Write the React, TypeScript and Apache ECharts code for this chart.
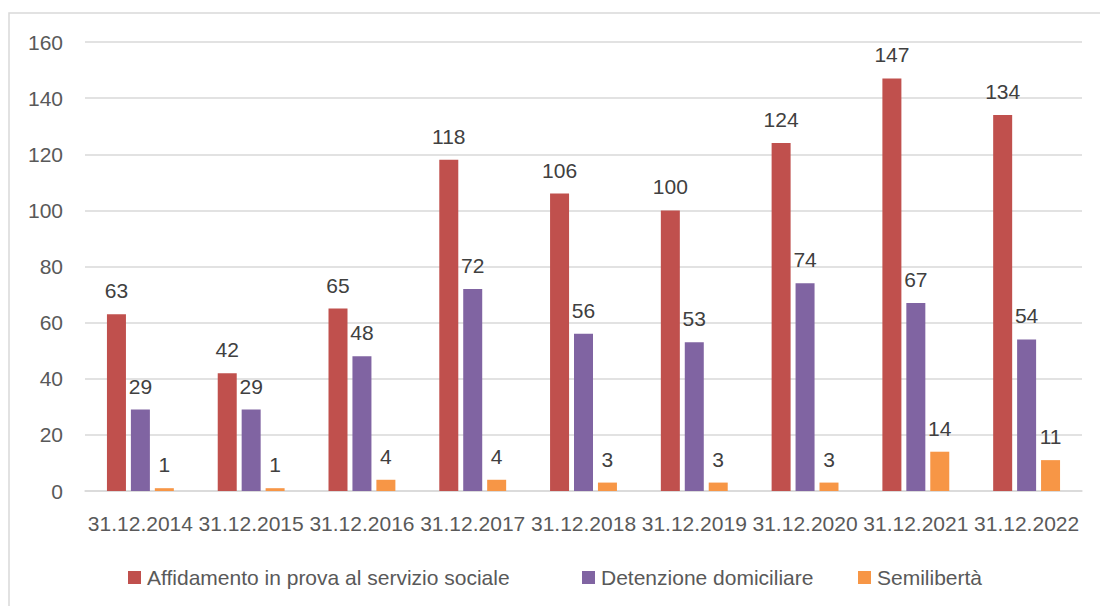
import React, { useEffect, useRef } from "react";
import * as echarts from "echarts";

const categories = [
  "31.12.2014", "31.12.2015", "31.12.2016", "31.12.2017", "31.12.2018",
  "31.12.2019", "31.12.2020", "31.12.2021", "31.12.2022",
];
const affidamento = [63, 42, 65, 118, 106, 100, 124, 147, 134];
const detenzione = [29, 29, 48, 72, 56, 53, 74, 67, 54];
const semiliberta = [1, 1, 4, 4, 3, 3, 3, 14, 11];
const seriesNames = [
  "Affidamento in prova al servizio sociale",
  "Detenzione domiciliare",
  "Semilibertà",
];
const colors = ["#C0504D", "#8064A2", "#F79646"];

const FONT = "Liberation Sans";

export default function App() {
  const ref = useRef<HTMLDivElement>(null);
  useEffect(() => {
    const chart = echarts.init(ref.current!, null, { renderer: "svg" });
    const mk = (name: string, data: number[], color: string) => ({
      name,
      type: "bar",
      data,
      barWidth: 19,
      barGap: "26%",
      itemStyle: { color },
      label: {
        show: true,
        position: "top",
        distance: 13,
        color: "#404040",
        fontSize: 21,
        fontFamily: FONT,
      },
    });
    chart.setOption({
      animation: false,
      textStyle: { fontFamily: FONT },
      graphic: [
        {
          type: "rect",
          shape: { x: 9, y: 13, width: 1200, height: 700 },
          style: { fill: "none", stroke: "#D9D9D9", lineWidth: 1.5 },
          silent: true,
        },
      ],
      grid: { left: 85, right: 18, top: 42, bottom: 115, containLabel: false },
      xAxis: {
        type: "category",
        data: categories,
        axisLine: { show: true, lineStyle: { color: "#D9D9D9", width: 1.5 } },
        axisTick: { show: false },
        axisLabel: {
          color: "#595959",
          fontSize: 21,
          fontFamily: FONT,
          margin: 22,
          interval: 0,
        },
      },
      yAxis: {
        type: "value",
        min: 0,
        max: 160,
        interval: 20,
        axisLine: { show: false },
        axisTick: { show: false },
        axisLabel: {
          color: "#595959",
          fontSize: 21,
          fontFamily: FONT,
          margin: 22,
        },
        splitLine: { lineStyle: { color: "#D9D9D9", width: 1.5 } },
      },
      legend: [
        { left: 123, data: [seriesNames[0]] },
        { left: 577, data: [seriesNames[1]] },
        { left: 853, data: [seriesNames[2]] },
      ].map((l) => ({
        ...l,
        top: 562,
        icon: "rect",
        itemWidth: 13,
        itemHeight: 13,
        itemGap: 0,
        textStyle: { color: "#595959", fontSize: 21, fontFamily: FONT, padding: [0, 0, 0, 1] },
      })),
      series: [
        mk(seriesNames[0], affidamento, colors[0]),
        mk(seriesNames[1], detenzione, colors[1]),
        mk(seriesNames[2], semiliberta, colors[2]),
      ],
    });
    return () => chart.dispose();
  }, []);
  return (
    <div
      ref={ref}
      style={{ position: "absolute", left: 0, top: 0, width: 1100, height: 606, background: "#fff" }}
    />
  );
}
